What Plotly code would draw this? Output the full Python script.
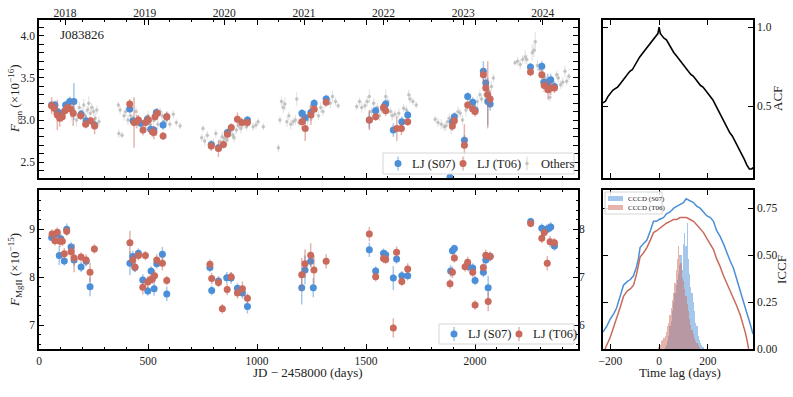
import plotly.graph_objects as go

# ---- data ----
# continuum light curve, LJ (S07)
con_s07_day = [58, 73, 84, 104, 122, 141, 160, 193, 216, 255,
               416, 431, 466, 497, 512, 527, 538, 569, 586,
               790, 823, 864, 956,
               1206, 1221, 1247, 1262, 1317,
               1515, 1544, 1585, 1590, 1625, 1664, 1691,
               1885, 1896, 1905, 1951, 1966, 1989, 2000, 2038, 2049, 2058, 2069,
               2254, 2306, 2315, 2333, 2347, 2364]
con_s07 = [3.18, 3.18, 3.10, 3.08, 3.18, 3.22, 3.22, 3.07, 2.99, 2.94,
           3.13, 2.99, 2.96, 3.01, 2.89, 2.88, 3.09, 2.94, 3.04,
           2.71, 2.67, 2.85, 3.00,
           3.08, 3.03, 3.09, 3.20, 3.25,
           3.00, 3.11, 3.17, 3.19, 2.88, 2.98, 3.06,
           2.32, 2.98, 3.04, 2.76, 3.28, 3.21, 3.12, 3.58, 3.44, 3.22, 3.19,
           3.63, 3.64, 3.45, 3.45, 3.48, 3.40]
con_s07_err = [0.04, 0.05, 0.06, 0.05, 0.05, 0.06, 0.22, 0.05, 0.06, 0.05,
               0.05, 0.06, 0.05, 0.05, 0.06, 0.05, 0.05, 0.06, 0.05,
               0.05, 0.05, 0.05, 0.05,
               0.05, 0.08, 0.10, 0.05, 0.05,
               0.10, 0.05, 0.06, 0.06, 0.08, 0.06, 0.05,
               0.10, 0.06, 0.05, 0.06, 0.05, 0.06, 0.06, 0.12, 0.10, 0.28, 0.08,
               0.05, 0.06, 0.08, 0.10, 0.07, 0.06]

# continuum light curve, LJ (T06)
con_t06_day = [58, 69, 84, 95, 107, 119, 130, 145, 157, 191, 214, 237, 255,
               416, 436, 448, 456, 477, 489, 502, 520, 527, 532, 543, 569, 586,
               790, 823, 846, 864, 882, 910, 930, 956,
               1206, 1221, 1247, 1262, 1317,
               1515, 1544, 1580, 1590, 1641, 1662, 1691,
               1896, 1905, 1951, 1966, 1989, 2000, 2038, 2049, 2058, 2069,
               2254, 2306, 2317, 2335, 2347, 2364]
con_t06 = [3.17, 3.14, 3.06, 3.02, 3.04, 3.11, 3.15, 3.13, 3.08, 3.05, 2.95, 2.99, 2.93,
           3.19, 2.97, 2.98, 3.00, 2.88, 2.97, 3.00, 2.86, 2.85, 3.04, 3.08, 2.81, 3.04,
           2.69, 2.66, 2.71, 2.83, 2.91, 3.01, 2.97, 2.97,
           2.98, 2.90, 3.06, 3.13, 3.21,
           3.00, 3.04, 3.15, 3.11, 2.90, 2.90, 2.98,
           2.93, 2.99, 2.70, 3.18, 3.13, 3.10, 3.54, 3.38, 3.30, 3.25,
           3.57, 3.54, 3.41, 3.36, 3.38, 3.38]
con_t06_err = [0.10, 0.08, 0.18, 0.10, 0.06, 0.05, 0.06, 0.05, 0.15, 0.05, 0.05, 0.05, 0.10,
               0.06, 0.30, 0.08, 0.06, 0.06, 0.08, 0.06, 0.06, 0.08, 0.06, 0.06, 0.05, 0.06,
               0.06, 0.10, 0.05, 0.06, 0.05, 0.08, 0.06, 0.05,
               0.08, 0.15, 0.12, 0.05, 0.05,
               0.12, 0.05, 0.05, 0.06, 0.15, 0.08, 0.05,
               0.06, 0.08, 0.25, 0.05, 0.06, 0.06, 0.08, 0.10, 0.40, 0.10,
               0.05, 0.06, 0.08, 0.12, 0.08, 0.06]

# continuum from other telescopes
oth_day = [120, 150, 160, 172, 185, 196, 205, 212, 222, 228, 235, 242, 250, 258, 265, 275,
           364, 366, 372, 381, 390, 398, 408, 420, 445, 455, 470, 485, 500, 510, 525, 545,
           555, 565, 575, 586, 600, 616, 630, 647,
           746, 752, 760, 772, 800, 811, 830, 840, 850, 862, 876, 888, 895, 905, 916, 926,
           940, 952, 965, 982, 995, 1005, 1029,
           1098, 1105, 1112, 1120, 1128, 1137, 1146, 1155, 1166, 1176, 1182, 1192, 1200, 1215,
           1232, 1240, 1255, 1272, 1282, 1292, 1302, 1312, 1326, 1336, 1346, 1360, 1372,
           1457, 1470, 1480, 1495, 1505, 1515, 1525, 1535, 1552, 1562, 1572, 1590, 1600, 1612,
           1620, 1632, 1650, 1672, 1685, 1696, 1702, 1715, 1730,
           1817, 1830, 1845, 1858, 1866, 1875, 1882, 1890, 1912, 1922, 1932, 1942, 1958, 1975,
           1985, 1995, 2010, 2022, 2030, 2045, 2062, 2075, 2084,
           2183, 2195, 2207, 2218, 2230, 2237, 2248, 2262, 2270, 2276, 2286, 2296, 2312, 2322,
           2343, 2352, 2374, 2382, 2392, 2402, 2412, 2420, 2430]
oth_flux = [3.17, 3.05, 3.12, 3.00, 3.15, 3.10, 3.18, 3.05, 3.12, 3.20, 3.08, 3.15, 3.10, 3.02, 3.12, 2.98,
            3.18, 2.84, 3.12, 2.82, 3.05, 3.10, 3.00, 3.05, 3.10, 3.02, 2.95, 2.98, 3.05, 2.95, 3.00, 2.95,
            3.10, 3.05, 2.98, 3.01, 2.95, 3.07, 2.97, 2.93,
            2.79, 2.90, 2.75, 2.82, 2.72, 2.84, 2.74, 2.80, 2.78, 2.76, 2.85, 2.82, 2.79, 2.88, 2.93, 2.90,
            2.95, 2.92, 2.97, 2.92, 2.94, 2.98, 2.92,
            2.67, 3.00, 3.22, 3.15, 3.19, 2.98, 3.05, 2.95, 2.98, 3.00, 3.25, 2.97, 3.05, 3.02,
            3.00, 3.10, 3.05, 3.12, 3.05, 3.15, 3.10, 3.20, 3.25, 3.20, 3.28, 3.22, 3.17,
            3.16, 3.22, 3.15, 3.17, 3.22, 3.28, 3.10, 3.20, 3.15, 3.05, 3.12, 3.28, 3.22, 3.10,
            3.05, 3.07, 3.08, 3.14, 3.12, 3.30, 3.25, 3.22, 3.18,
            3.01, 2.97, 2.95, 2.92, 2.93, 2.98, 3.02, 2.90, 3.05, 3.10, 3.08, 3.00, 3.12, 3.20,
            3.12, 3.18, 3.22, 3.30, 3.25, 3.30, 3.35, 3.40, 3.50,
            3.68, 3.70, 3.66, 3.72, 3.75, 3.72, 3.62, 3.80, 3.83, 3.93, 3.65, 3.60, 3.55, 3.50,
            3.27, 3.45, 3.54, 3.50, 3.42, 3.45, 3.58, 3.46, 3.52]
oth_err = [0.05, 0.06, 0.05, 0.08, 0.06, 0.05, 0.07, 0.06, 0.05, 0.08, 0.06, 0.05, 0.06, 0.07, 0.05, 0.06,
           0.04, 0.05, 0.05, 0.04, 0.06, 0.05, 0.06, 0.08, 0.06, 0.05, 0.06, 0.05, 0.06, 0.05, 0.07, 0.06,
           0.05, 0.06, 0.05, 0.06, 0.05, 0.05, 0.04, 0.04,
           0.05, 0.04, 0.06, 0.05, 0.06, 0.05, 0.05, 0.06, 0.05, 0.06, 0.05, 0.05, 0.06, 0.05, 0.05, 0.06,
           0.05, 0.05, 0.04, 0.05, 0.05, 0.04, 0.04,
           0.05, 0.05, 0.06, 0.07, 0.08, 0.06, 0.05, 0.06, 0.05, 0.06, 0.08, 0.05, 0.06, 0.05,
           0.06, 0.07, 0.05, 0.06, 0.05, 0.06, 0.05, 0.06, 0.05, 0.06, 0.07, 0.05, 0.04,
           0.04, 0.05, 0.06, 0.05, 0.06, 0.08, 0.05, 0.06, 0.05, 0.06, 0.05, 0.08, 0.06, 0.05,
           0.06, 0.05, 0.06, 0.05, 0.05, 0.06, 0.05, 0.04, 0.04,
           0.04, 0.05, 0.06, 0.05, 0.06, 0.05, 0.06, 0.07, 0.05, 0.06, 0.05, 0.06, 0.08, 0.06,
           0.05, 0.06, 0.07, 0.06, 0.05, 0.06, 0.08, 0.06, 0.05,
           0.03, 0.05, 0.06, 0.05, 0.08, 0.06, 0.05, 0.10, 0.08, 0.12, 0.06, 0.05, 0.06, 0.05,
           0.05, 0.06, 0.05, 0.06, 0.05, 0.06, 0.07, 0.05, 0.04]

# MgII light curve, LJ (S07)
mg_s07_day = [58, 81, 93, 100, 116, 127, 147, 161, 193, 216, 234,
              417, 430, 440, 456, 476, 499, 514, 528, 540, 566, 586,
              784, 792, 823, 861, 881, 910, 933, 956,
              1205, 1220, 1246, 1258,
              1515, 1544, 1580, 1590, 1625, 1640, 1664, 1691,
              1888, 1896, 1905, 1969, 1989, 2000, 2038, 2049, 2060, 2069,
              2255, 2306, 2329, 2338, 2347, 2364]
mg_s07 = [8.83, 8.90, 8.45, 8.80, 8.34, 9.00, 8.63, 8.36, 8.21, 8.33, 7.80,
          8.29, 8.43, 8.20, 8.50, 7.94, 7.71, 8.13, 7.76, 8.28, 8.48, 7.65,
          8.20, 7.72, 7.92, 7.99, 7.98, 7.77, 7.67, 7.39,
          7.78, 8.15, 8.33, 7.78,
          8.57, 8.13, 8.50, 8.47, 7.98, 8.38, 8.03, 8.03,
          8.13, 8.55, 8.60, 8.22, 8.19, 7.93, 8.10, 8.36, 7.78, 8.43,
          9.16, 9.02, 9.00, 9.02, 9.05, 8.65]
mg_s07_err = [0.08, 0.08, 0.20, 0.10, 0.10, 0.12, 0.10, 0.12, 0.10, 0.10, 0.20,
              0.25, 0.12, 0.10, 0.10, 0.12, 0.10, 0.10, 0.15, 0.10, 0.15, 0.15,
              0.10, 0.10, 0.10, 0.12, 0.12, 0.10, 0.12, 0.15,
              0.35, 0.30, 0.12, 0.20,
              0.15, 0.10, 0.10, 0.10, 0.25, 0.10, 0.10, 0.10,
              0.12, 0.10, 0.08, 0.10, 0.10, 0.10, 0.10, 0.12, 0.25, 0.10,
              0.08, 0.10, 0.10, 0.10, 0.10, 0.10]

# MgII light curve, LJ (T06)
mg_t06_day = [60, 73, 84, 96, 107, 116, 127, 147, 161, 193, 216, 234, 254,
              417, 430, 440, 456, 476, 488, 499, 509, 520, 530, 540, 566, 586,
              784, 792, 823, 841, 863, 881, 910, 933, 956,
              1205, 1220, 1246, 1261, 1317,
              1515, 1544, 1580, 1590, 1625, 1640, 1664, 1691,
              1885, 1896, 1905, 1954, 1966, 1989, 2000, 2038, 2049, 2060, 2069,
              2255, 2306, 2317, 2331, 2344, 2364]
mg_t06 = [8.90, 8.76, 8.94, 8.75, 8.75, 8.49, 8.96, 8.53, 8.40, 8.42, 8.36, 8.10, 8.59,
          8.72, 8.36, 8.21, 8.45, 7.79, 8.45, 7.90, 7.94, 7.96, 8.03, 8.36, 8.29, 7.93,
          8.27, 7.97, 7.89, 7.34, 7.74, 8.01, 7.67, 7.76, 7.56,
          8.05, 8.28, 8.46, 8.15, 8.33,
          8.90, 8.01, 8.39, 8.37, 6.94, 8.52, 7.91, 8.17,
          7.86, 8.10, 8.40, 8.22, 8.31, 8.10, 7.42, 8.20, 8.46, 7.49, 8.43,
          9.12, 8.81, 8.93, 8.29, 8.74, 8.72]
mg_t06_err = [0.10, 0.10, 0.10, 0.12, 0.10, 0.12, 0.10, 0.12, 0.30, 0.10, 0.12, 0.20, 0.10,
              0.25, 0.12, 0.10, 0.10, 0.15, 0.10, 0.12, 0.10, 0.10, 0.12, 0.12, 0.15, 0.10,
              0.10, 0.12, 0.10, 0.10, 0.12, 0.10, 0.12, 0.15, 0.10,
              0.35, 0.30, 0.25, 0.30, 0.15,
              0.15, 0.10, 0.10, 0.10, 0.20, 0.12, 0.10, 0.12,
              0.10, 0.12, 0.10, 0.10, 0.12, 0.10, 0.10, 0.10, 0.12, 0.20, 0.10,
              0.08, 0.10, 0.10, 0.15, 0.12, 0.10]

# top axis: calendar years at their JD - 2458000 offsets
year_labels = ["2018", "2019", "2020", "2021", "2022", "2023", "2024"]
year_day = [119.5, 484.5, 849.5, 1215.5, 1580.5, 1945.5, 2310.5]

# auto-correlation of the continuum
acf_lag = [-230, -220, -210, -200, -190, -180, -170, -160, -150, -140, -130, -120, -110, -100,
           -90, -80, -70, -60, -50, -40, -30, -20, -10, -5, 0, 5, 10, 20, 30, 40, 50, 60, 70,
           80, 90, 100, 110, 120, 130, 140, 150, 160, 170, 180, 190, 200, 210, 220, 230, 240,
           250, 260, 270, 280, 290, 300, 310, 320, 330, 340, 350, 360, 370, 380, 385]
acf = [0.52, 0.53, 0.56, 0.58, 0.60, 0.61, 0.62, 0.64, 0.66, 0.68, 0.70, 0.72, 0.73, 0.76,
       0.78, 0.81, 0.83, 0.85, 0.87, 0.89, 0.91, 0.93, 0.95, 0.96, 1.00, 0.96, 0.95, 0.93, 0.92,
       0.89, 0.86, 0.84, 0.82, 0.80, 0.78, 0.76, 0.74, 0.72, 0.70, 0.69, 0.67, 0.65, 0.63, 0.62,
       0.60, 0.58, 0.56, 0.54, 0.51, 0.48, 0.45, 0.42, 0.39, 0.36, 0.33, 0.31, 0.28, 0.26, 0.23,
       0.19, 0.16, 0.125, 0.10, 0.10, 0.11]

# interpolated cross-correlation
iccf_s07_lag = [-230, -215, -200, -185, -174, -160, -146, -130, -118, -105, -92, -85, -78, -65,
                -50, -36, -23, -10, 0, 18, 30, 45, 60, 72, 86, 100, 111, 125, 141, 155, 168,
                182, 195, 210, 223, 236, 250, 264, 278, 291, 305, 318, 333, 346, 360, 372, 385]
iccf_s07 = [0.09, 0.12, 0.16, 0.19, 0.22, 0.28, 0.34, 0.36, 0.37, 0.39, 0.44, 0.48, 0.54, 0.56,
            0.58, 0.63, 0.68, 0.68, 0.69, 0.70, 0.72, 0.73, 0.75, 0.76, 0.77, 0.78, 0.80, 0.79,
            0.78, 0.76, 0.75, 0.73, 0.71, 0.70, 0.68, 0.63, 0.60, 0.56, 0.51, 0.47, 0.43, 0.37,
            0.31, 0.25, 0.19, 0.14, 0.08]
iccf_t06_lag = [-222, -210, -201, -188, -174, -160, -146, -130, -118, -105, -92, -85, -78, -65,
                -50, -36, -23, -10, 0, 18, 30, 45, 59, 72, 86, 100, 113, 127, 141, 155, 168,
                182, 195, 210, 223, 236, 250, 264, 278, 291, 305, 318, 333, 343, 353, 360, 367]
iccf_t06 = [0.00, 0.03, 0.06, 0.11, 0.16, 0.22, 0.28, 0.31, 0.32, 0.34, 0.40, 0.44, 0.49, 0.51,
            0.54, 0.58, 0.62, 0.63, 0.64, 0.66, 0.67, 0.68, 0.69, 0.69, 0.70, 0.70, 0.70, 0.69,
            0.68, 0.66, 0.64, 0.62, 0.59, 0.56, 0.53, 0.48, 0.44, 0.39, 0.35, 0.31, 0.27, 0.23,
            0.18, 0.14, 0.09, 0.05, 0.00]

# cross-correlation centroid distributions (scaled to the ICCF axis)
cccd_s07_lag = list(range(25, 185, 5))
cccd_s07 = [0.01, 0.02, 0.04, 0.07, 0.12, 0.15, 0.20, 0.25, 0.30, 0.34, 0.37, 0.40, 0.45, 0.50,
            0.42, 0.56, 0.62, 0.55, 0.67, 0.48, 0.40, 0.33, 0.30, 0.25, 0.20, 0.14, 0.12, 0.07,
            0.05, 0.03, 0.02, 0.01]
cccd_t06_lag = list(range(0, 170, 5))
cccd_t06 = [0.01, 0.02, 0.04, 0.05, 0.06, 0.07, 0.09, 0.12, 0.14, 0.18, 0.22, 0.26, 0.30, 0.35,
            0.42, 0.48, 0.55, 0.50, 0.46, 0.38, 0.36, 0.32, 0.28, 0.24, 0.20, 0.16, 0.13, 0.10,
            0.08, 0.06, 0.04, 0.03, 0.02, 0.01]

# ---- styling ----
BLUE = "#4a8fd8"
RED = "#c96a5c"
GRAY = "rgba(165,165,165,0.6)"
BLUE_ERR = "rgba(74,143,216,0.5)"
RED_ERR = "rgba(201,106,92,0.5)"
GRAY_ERR = "rgba(175,175,175,0.35)"
BLUE_FILL = "rgba(74,143,216,0.5)"
RED_FILL = "rgba(201,106,92,0.5)"
FONT = "Liberation Serif"
W, H = 793, 397


def fx(px):
    # page pixel -> paper x
    return px / W


def fy(py):
    # page pixel -> paper y
    return 1 - py / H


def points(x, y, err, color, ecolor, size, xa, ya, thick=1.5):
    return go.Scatter(x=x, y=y, mode="markers", showlegend=False, xaxis=xa, yaxis=ya,
                      marker=dict(size=size, color=color),
                      error_y=dict(array=err, color=ecolor, thickness=thick, width=0))


fig = go.Figure()

# top-left: continuum
fig.add_trace(points(oth_day, oth_flux, oth_err, GRAY, GRAY_ERR, 3.5, "x", "y", 1.2))
fig.add_trace(points(con_s07_day, con_s07, con_s07_err, BLUE, BLUE_ERR, 7, "x", "y"))
fig.add_trace(points(con_t06_day, con_t06, con_t06_err, RED, RED_ERR, 7, "x", "y"))
# year axis on top (no visible marks)
fig.add_trace(go.Scatter(x=[year_day[0]], y=[3.0], mode="markers", marker=dict(opacity=0),
                         showlegend=False, hoverinfo="skip", xaxis="x5", yaxis="y"))

# bottom-left: MgII
fig.add_trace(points(mg_s07_day, mg_s07, mg_s07_err, BLUE, BLUE_ERR, 7, "x2", "y2"))
fig.add_trace(points(mg_t06_day, mg_t06, mg_t06_err, RED, RED_ERR, 7, "x2", "y2"))
fig.add_trace(go.Scatter(x=[100], y=[7.0], mode="markers", marker=dict(opacity=0),
                         showlegend=False, hoverinfo="skip", xaxis="x2", yaxis="y5"))

# top-right: ACF
fig.add_trace(go.Scatter(x=acf_lag, y=acf, mode="lines", line=dict(color="black", width=1.6),
                         showlegend=False, xaxis="x3", yaxis="y3"))

# bottom-right: CCCD + ICCF
fig.add_trace(go.Bar(x=cccd_s07_lag, y=cccd_s07, width=5, showlegend=False,
                     marker=dict(color=BLUE_FILL, line=dict(width=0)), xaxis="x4", yaxis="y4"))
fig.add_trace(go.Bar(x=cccd_t06_lag, y=cccd_t06, width=5, showlegend=False,
                     marker=dict(color=RED_FILL, line=dict(width=0)), xaxis="x4", yaxis="y4"))
fig.add_trace(go.Scatter(x=iccf_s07_lag, y=iccf_s07, mode="lines", line=dict(color=BLUE, width=1.5),
                         showlegend=False, xaxis="x4", yaxis="y4"))
fig.add_trace(go.Scatter(x=iccf_t06_lag, y=iccf_t06, mode="lines", line=dict(color=RED, width=1.5),
                         showlegend=False, xaxis="x4", yaxis="y4"))

frame = dict(showline=True, linecolor="black", linewidth=1.5, ticks="inside",
             tickcolor="black", ticklen=5, tickwidth=1, showgrid=False, zeroline=False,
             automargin=False, tickfont=dict(family=FONT, size=11.5, color="#222"))
minor = lambda d: dict(ticks="inside", ticklen=2.5, tickcolor="black", dtick=d, showgrid=False)

left_dom = [fx(39), fx(578)]
right_dom = [fx(603), fx(753)]
top_dom = [fy(178), fy(20)]
bot_dom = [fy(349), fy(190)]
day_range = [0, 2472]
lag_range = [-230, 385]


def label(text, x, y, angle=0, size=13, anchor="center"):
    # texts placed by hand in page pixels
    return dict(text=text, x=fx(x), y=fy(y), xref="paper", yref="paper",
                xanchor=anchor, yanchor="middle", showarrow=False, textangle=angle,
                font=dict(family=FONT, size=size, color="#222"))


# hand-drawn legends (matplotlib-like: marker with its error bar, tight spacing)
shapes, notes = [], []


def legend_box(x0, y0, x1, y1):
    shapes.append(dict(type="rect", xref="paper", yref="paper", x0=fx(x0), x1=fx(x1),
                       y0=fy(y1), y1=fy(y0), fillcolor="rgba(255,255,255,0.85)",
                       line=dict(color="#d6d6d6", width=1), layer="above"))


def legend_point(cx, cy, color, ecolor, r, text, tx):
    shapes.append(dict(type="line", xref="paper", yref="paper", xsizemode="pixel",
                       ysizemode="pixel", xanchor=fx(cx), yanchor=fy(cy), x0=0, x1=0,
                       y0=-7, y1=7, line=dict(color=ecolor, width=1.5), layer="above"))
    shapes.append(dict(type="circle", xref="paper", yref="paper", xsizemode="pixel",
                       ysizemode="pixel", xanchor=fx(cx), yanchor=fy(cy), x0=-r, x1=r,
                       y0=-r, y1=r, fillcolor=color, line=dict(width=0), layer="above"))
    notes.append(label(text, tx, cy, size=12.5, anchor="left"))


def legend_patch(x0, cy, color, text):
    shapes.append(dict(type="rect", xref="paper", yref="paper", x0=fx(x0), x1=fx(x0 + 15),
                       y0=fy(cy + 2.5), y1=fy(cy - 2.5), fillcolor=color,
                       line=dict(width=0), layer="above"))
    notes.append(label(text, x0 + 18, cy, size=7, anchor="left"))


legend_box(383, 153, 574, 174)
legend_point(398, 163.5, BLUE, BLUE_ERR, 3.5, "LJ (S07)", 410)
legend_point(463, 163.5, RED, RED_ERR, 3.5, "LJ (T06)", 475)
legend_point(527, 163.5, GRAY, GRAY_ERR, 1.8, "Others", 539)

legend_box(439, 324, 574, 344)
legend_point(454, 334, BLUE, BLUE_ERR, 3.5, "LJ (S07)", 466)
legend_point(519, 334, RED, RED_ERR, 3.5, "LJ (T06)", 531)

legend_box(605, 192, 662, 214)
legend_patch(608, 198.5, BLUE_FILL, "CCCD (S07)")
legend_patch(608, 207.5, RED_FILL, "CCCD (T06)")

fig.update_layout(
    width=W, height=H, margin=dict(l=0, r=0, t=0, b=0), showlegend=False,
    paper_bgcolor="white", plot_bgcolor="white", barmode="overlay", bargap=0,
    font=dict(family=FONT, size=12, color="#222"),
    xaxis=dict(frame, domain=left_dom, range=day_range, anchor="y", dtick=500,
               showticklabels=False, mirror="ticks", minor=minor(100)),
    xaxis5=dict(frame, range=day_range, overlaying="x", side="top", anchor="y",
                tickvals=year_day, ticktext=year_labels, showline=False),
    yaxis=dict(frame, domain=top_dom, range=[2.31, 4.19], anchor="x", dtick=0.5,
               tickformat=".1f", mirror="allticks", minor=minor(0.1)),
    xaxis2=dict(frame, domain=left_dom, range=day_range, anchor="y2", dtick=500,
                mirror="ticks", minor=minor(100)),
    yaxis2=dict(frame, domain=bot_dom, range=[6.5, 9.82], anchor="x2", dtick=1,
                mirror=True, minor=minor(0.2)),
    yaxis5=dict(frame, range=[5.5, 8.82], overlaying="y2", side="right", anchor="x2",
                dtick=1, showline=False, minor=minor(0.2)),
    xaxis3=dict(frame, domain=right_dom, range=lag_range, anchor="y3", tickvals=[-200, 0, 200],
                showticklabels=False, mirror="ticks"),
    yaxis3=dict(frame, domain=top_dom, range=[0.043, 1.046], anchor="x3", side="right",
                tickvals=[0.5, 1.0], tickformat=".1f", mirror="ticks"),
    xaxis4=dict(frame, domain=right_dom, range=lag_range, anchor="y4", tickvals=[-200, 0, 200],
                mirror="ticks"),
    yaxis4=dict(frame, domain=bot_dom, range=[0, 0.847], anchor="x4", side="right",
                tickvals=[0, 0.25, 0.5, 0.75], tickformat=".2f", mirror="ticks"),
    shapes=shapes,
    annotations=[
        label("J083826", 58, 35, anchor="left"),
        label("<i>F</i><sub>con</sub> (×10<sup>−16</sup>)", 15, 99, -90),
        label("<i>F</i><sub>MgII</sub> (×10<sup>−15</sup>)", 15, 270, -90),
        label("JD − 2458000 (days)", 308, 372),
        label("ACF", 777, 99, -90),
        label("ICCF", 781, 270, -90),
        label("Time lag (days)", 680, 372),
    ] + notes,
)

# drop the browser's default 8px body margin so the figure fills the window
fig.write_html("out.html", config={"displayModeBar": False},
               post_script="document.body.style.margin = '0';")
